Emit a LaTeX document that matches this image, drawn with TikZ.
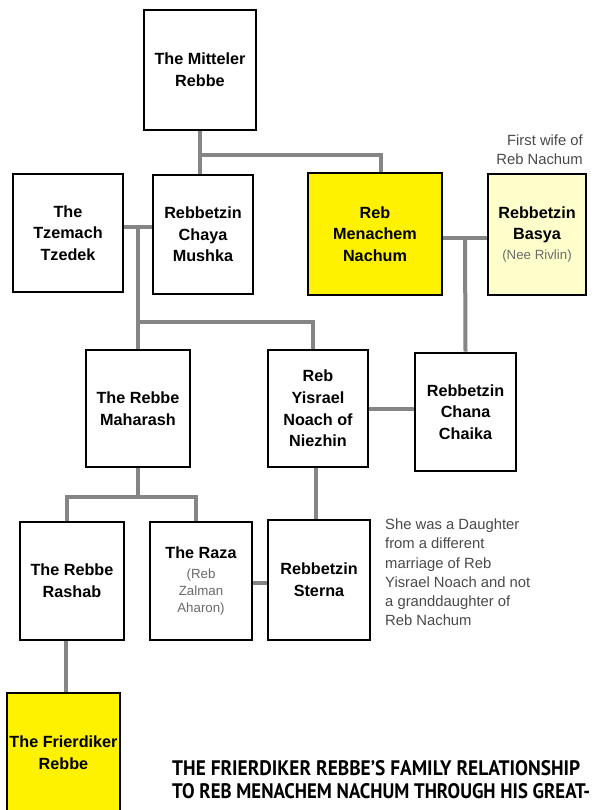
\documentclass[tikz,border=0pt]{standalone}
\usepackage{fontspec}
\usepackage{graphicx}
\setmainfont{Liberation Sans}
\newfontfamily\titlefont[FakeStretch=0.92]{PT Sans}
\usetikzlibrary{backgrounds}
\definecolor{linkgray}{HTML}{858585}
\definecolor{subgray}{HTML}{6A6A6A}
\definecolor{notegray}{HTML}{4A4A4A}
\definecolor{basyafill}{HTML}{FFFFCC}
\newcommand{\subtxt}[1]{{\mdseries\fontsize{13.3}{17}\selectfont\color{subgray}#1}}
\begin{document}
\begin{tikzpicture}[x=1pt,y=-1pt,
    person/.style={draw=black,line width=2.6pt,fill=white,align=center,inner sep=0pt,
      font=\bfseries\fontsize{16.2}{21.7}\selectfont},
    link/.style={draw=linkgray,line width=4pt},
    note/.style={align=left,inner sep=0pt,text=notegray,font=\fontsize{14.8}{19.3}\selectfont}]
    \useasboundingbox (0,0) rectangle (595,810);
    \clip (0,0) rectangle (595,810);
    \node[person,minimum width=112,minimum height=120] (mitteler) at (200,70) {The Mitteler\\Rebbe};
    \node[person,minimum width=110,minimum height=118] (tzemach) at (68,233) {The\\Tzemach\\Tzedek};
    \node[person,minimum width=100,minimum height=119] (chaya) at (203,234.5) {Rebbetzin\\Chaya\\Mushka};
    \node[person,minimum width=134,minimum height=122,fill=yellow] (nachum) at (375,234) {Reb\\Menachem\\Nachum};
    \node[person,minimum width=98,minimum height=121,fill=basyafill] (basya) at (537,234.5) {Rebbetzin\\Basya\\[-1.7pt]\subtxt{(Nee Rivlin)}};
    \node[person,minimum width=104,minimum height=117] (maharash) at (138,408.5) {The Rebbe\\Maharash};
    \node[person,minimum width=100,minimum height=117] (yisrael) at (318,408.5) {Reb\\Yisrael\\Noach of\\Niezhin};
    \node[person,minimum width=101,minimum height=118] (chana) at (465.5,412) {Rebbetzin\\Chana\\Chaika};
    \node[person,minimum width=104,minimum height=118] (rashab) at (72,581) {The Rebbe\\Rashab};
    \node[person,minimum width=102,minimum height=118] (raza) at (201,581) {The Raza\\[-1.7pt]\subtxt{(Reb}\\[-4.7pt]\subtxt{Zalman}\\[-4.7pt]\subtxt{Aharon)}};
    \node[person,minimum width=102,minimum height=120] (sterna) at (319,580) {Rebbetzin\\Sterna};
    \node[person,minimum width=113,minimum height=120,fill=yellow] (frierdiker) at (63.5,753) {The Frierdiker\\Rebbe};
    \node[note,anchor=north east,align=right] (firstwife) at (583,134.5) {First wife of\\Reb Nachum};
    \node[note,anchor=north west] (daughter) at (385,518.5) {She was a Daughter\\from a different\\marriage of Reb\\Yisrael Noach and not\\a granddaughter of\\Reb Nachum};
    \node[anchor=north west,align=left,inner sep=0pt,font=\titlefont\bfseries\fontsize{21}{23}\selectfont] (title) at (172,760)
      {\resizebox{408pt}{\height}{THE FRIERDIKER REBBE’S FAMILY RELATIONSHIP}\\
       \resizebox{418pt}{\height}{TO REB MENACHEM NACHUM THROUGH HIS GREAT-}};
    \coordinate (top) at (200,155);
    \coordinate (wed1) at (138,227);
    \coordinate (kids1) at (138,322);
    \coordinate (wed2) at (465,238);
    \coordinate (kids2) at (138,497);
    \begin{scope}[on background layer]
        \fill[white] (0,0) rectangle (595,810);
        \draw[link] (mitteler.south) -- (mitteler.south |- chaya.north);
        \draw[link] (top) -| ([xshift=6]nachum.north);
        \draw[link] (tzemach.east |- wed1) -- (chaya.west |- wed1);
        \draw[link] (wed1) -- (maharash.north);
        \draw[link] (kids1) -| ([xshift=-5]yisrael.north);
        \draw[link] (nachum.east |- wed2) -- (basya.west |- wed2);
        \draw[link] (wed2) -- (chana.north);
        \draw[link] (yisrael.east) -- (chana.west |- yisrael.east);
        \draw[link] ([xshift=-2]yisrael.south) -- ([xshift=-2]yisrael.south |- sterna.north);
        \draw[link] (maharash.south) -- (kids2);
        \draw[link] ([xshift=-5]rashab.north) |- (kids2) -| ([xshift=-5]raza.north);
        \draw[link] ([yshift=-2]raza.east) -- ([yshift=-2]raza.east -| sterna.west);
        \draw[link] ([xshift=-6]rashab.south) -- ([xshift=-6]rashab.south |- frierdiker.north);
    \end{scope}
\end{tikzpicture}
\end{document}
